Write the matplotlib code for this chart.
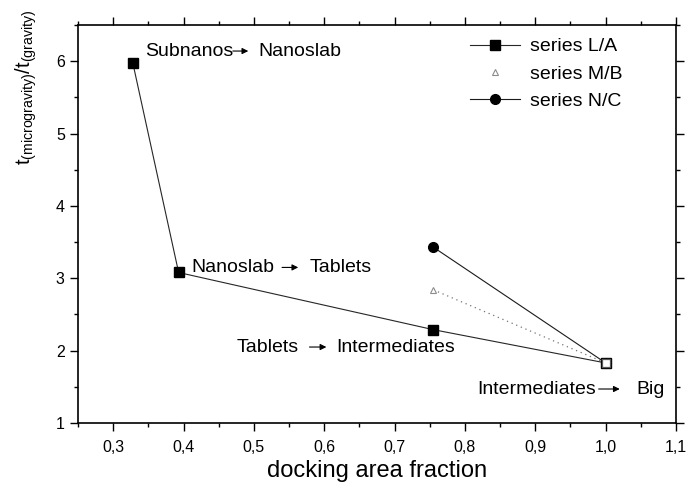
import matplotlib
matplotlib.use("Agg")
import matplotlib.pyplot as plt
from matplotlib.ticker import MultipleLocator, FormatStrFormatter

plt.rcParams["font.family"] = ["Liberation Sans", "DejaVu Sans"]
plt.rcParams["mathtext.default"] = "regular"

# data
x_la = [0.328, 0.393, 0.755, 1.0]
y_la = [5.97, 3.08, 2.29, 1.83]
x_mb = [0.755, 1.0]
y_mb = [2.84, 1.83]
x_nc = [0.755, 1.0]
y_nc = [3.43, 1.83]

# transition labels: (left word, right word, x start, arrow x0, arrow x1, right x, y)
transitions = [
    ("Subnanos", "Nanoslab", 0.345, 0.470, 0.492, 0.506, 6.14),
    ("Nanoslab", "Tablets", 0.411, 0.540, 0.563, 0.579, 3.15),
    ("Tablets", "Intermediates", 0.475, 0.579, 0.603, 0.617, 2.05),
    ("Intermediates", "Big", 0.818, 0.990, 1.020, 1.043, 1.47),
]

fig = plt.figure(figsize=(6.88, 4.90), dpi=100)
ax = fig.add_axes([0.1134, 0.1367, 0.8692, 0.8123])

ax.plot(x_la, y_la, "-", color="0.15", lw=0.8, marker="s", ms=6.5,
        mfc="black", mec="black", label="series L/A", zorder=3)
ax.plot(x_mb, y_mb, linestyle=(0, (1, 3)), color="0.45", lw=0.9, zorder=2)
ax.plot(x_mb, y_mb, linestyle="none", marker="^", ms=5, mfc="white",
        mec="0.55", mew=0.8, label="series M/B", zorder=2)
ax.plot(x_nc, y_nc, "-", color="0.1", lw=0.8, marker="o", ms=7,
        mfc="black", mec="black", label="series N/C", zorder=3)
# open marker at shared endpoint
ax.plot([x_la[-1]], [y_la[-1]], linestyle="none", marker="s", ms=6,
        mfc="white", mec="0.35", mew=0.9, zorder=4)

for left, right, xs, a0, a1, xr, yy in transitions:
    ax.text(xs, yy, left, fontsize=14, va="center", ha="left")
    ax.annotate("", xy=(a1, yy), xytext=(a0, yy),
                arrowprops=dict(arrowstyle="-|>", color="black", lw=0.8,
                                mutation_scale=9, shrinkA=0, shrinkB=0))
    ax.text(xr, yy, right, fontsize=14, va="center", ha="left")

ax.set_xlim(0.25, 1.1)
ax.set_ylim(1, 6.5)
ax.xaxis.set_major_locator(MultipleLocator(0.1))
ax.xaxis.set_minor_locator(MultipleLocator(0.05))
ax.yaxis.set_major_locator(MultipleLocator(1))
ax.yaxis.set_minor_locator(MultipleLocator(0.5))
ax.xaxis.set_major_formatter(lambda v, p: f"{v:.1f}".replace(".", ","))
ax.yaxis.set_major_formatter(FormatStrFormatter("%d"))
ax.tick_params(which="both", direction="out", top=True, right=True,
               labelsize=11.5, width=1)
ax.tick_params(which="major", length=6)
ax.tick_params(axis="x", which="major", pad=6)
ax.tick_params(which="minor", length=3)
for sp in ax.spines.values():
    sp.set_linewidth(1.2)

ax.set_xlabel("docking area fraction", fontsize=17, labelpad=4)
ax.set_ylabel(r"$t_{(microgravity)}/t_{(gravity)}$", fontsize=14.5)
ax.yaxis.set_label_coords(-0.066, 0.842)

ax.legend(loc="upper right", bbox_to_anchor=(0.94, 1.012), frameon=False,
          fontsize=14, handlelength=2.6, handletextpad=0.5, labelspacing=0.5)

fig.savefig("out.png", dpi=100)
